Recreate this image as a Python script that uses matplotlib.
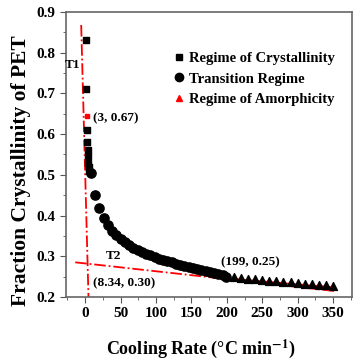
import matplotlib.pyplot as plt
from matplotlib.lines import Line2D

plt.rcParams['font.family'] = ['Liberation Serif', 'DejaVu Serif']
plt.rcParams['font.weight'] = 'bold'
plt.rcParams['mathtext.fontset'] = 'stix'

# regime of crystallinity (squares)
cryst_x = [1.0, 1.5, 2.5, 3.0, 3.5, 4.0, 4.5, 5.0, 5.5]
cryst_y = [0.83, 0.71, 0.61, 0.58, 0.56, 0.545, 0.53, 0.52, 0.51]

# transition regime (circles)
trans_x = [8, 14, 20, 26, 32, 38, 44, 50, 56, 62, 68, 74, 80, 86, 92, 98,
           104, 110, 116, 122, 128, 134, 140, 146, 152, 158, 164, 170, 176,
           182, 188, 194, 199]
trans_y = [0.505, 0.450, 0.418, 0.395, 0.376, 0.362, 0.351, 0.342, 0.334,
           0.327, 0.321, 0.315, 0.310, 0.306, 0.302, 0.298, 0.294, 0.291,
           0.288, 0.285, 0.282, 0.279, 0.276, 0.273, 0.271, 0.268, 0.266,
           0.263, 0.261, 0.258, 0.256, 0.253, 0.250]

# regime of amorphicity (triangles)
amor_x = [210, 220, 230, 240, 250, 260, 270, 280, 290, 300, 310, 320, 330, 340, 350]
amor_y = [0.248, 0.246, 0.245, 0.243, 0.242, 0.240, 0.239, 0.237, 0.236,
          0.234, 0.233, 0.231, 0.230, 0.229, 0.227]

# tangent lines
t1_x = [-5.6, 4.7]
t1_y = [0.868, 0.2]
t2_x = [-14, 355]
t2_y = [0.285, 0.214]

fig = plt.figure(figsize=(3.55, 3.63), dpi=100)
ax = fig.add_axes([0.186, 0.182, 0.806, 0.785])

ax.plot(t1_x, t1_y, color='red', ls='-.', lw=1.3, zorder=2)
ax.plot(t2_x, t2_y, color='red', ls='-.', lw=1.3, zorder=2)
ax.plot(amor_x, [y - 0.004 for y in amor_y], color='red', lw=1.6, zorder=2)

ax.scatter(cryst_x, cryst_y, marker='s', s=24, color='black', zorder=3)
ax.scatter(trans_x, trans_y, marker='o', s=44, color='black', zorder=3)
ax.scatter(amor_x, amor_y, marker='^', s=32, color='black', zorder=3)
ax.plot([3], [0.645], marker='s', ms=3.5, color='red', zorder=4)

ax.text(-18, 0.77, 'T1', fontsize=9.5, ha='center', va='center')
ax.text(11, 0.64, '(3, 0.67)', fontsize=9.5, ha='left', va='center')
ax.text(40, 0.30, 'T2', fontsize=9.5, ha='center', va='center')
ax.text(11, 0.234, '(8.34, 0.30)', fontsize=9.5, ha='left', va='center')
ax.text(233, 0.286, '(199, 0.25)', fontsize=9.5, ha='center', va='center')

handles = [
    Line2D([], [], ls='none', marker='s', ms=5, color='black'),
    Line2D([], [], ls='none', marker='o', ms=6, color='black'),
    Line2D([], [], ls='none', marker='^', ms=5, color='red'),
]
labels = ['Regime of Crystallinity', 'Transition Regime', 'Regime of Amorphicity']
ax.legend(handles, labels, loc='upper left', bbox_to_anchor=(0.37, 0.86),
          frameon=False, prop={'size': 10.5, 'weight': 'bold'},
          handletextpad=0.2, labelspacing=0.5, handlelength=1.0,
          borderpad=0, borderaxespad=0)

ax.set_xlim(-27, 377)
ax.set_ylim(0.2, 0.9)
ax.set_xticks([0, 50, 100, 150, 200, 250, 300, 350])
ax.set_xticks(range(-25, 376, 25), minor=True)
ax.set_yticks([0.2, 0.3, 0.4, 0.5, 0.6, 0.7, 0.8, 0.9])
ax.set_yticks([0.25, 0.35, 0.45, 0.55, 0.65, 0.75, 0.85], minor=True)
ax.tick_params(which='both', direction='out', labelsize=11, color='#555555')
ax.tick_params(which='major', length=4)
ax.tick_params(which='minor', length=2.5)
for s in ax.spines.values():
    s.set_color('#666666')
    s.set_linewidth(1.2)

ax.set_xlabel('Cooling Rate (°C min$^{\\mathbf{-1}}$)', fontsize=13, fontweight='bold', labelpad=12)
ax.set_ylabel('Fraction Crystallinity of PET', fontsize=15.5, fontweight='bold', labelpad=4)
ax.xaxis.label.set_x(0.47)
ax.yaxis.label.set_y(0.445)

fig.savefig('out.png', dpi=100)
